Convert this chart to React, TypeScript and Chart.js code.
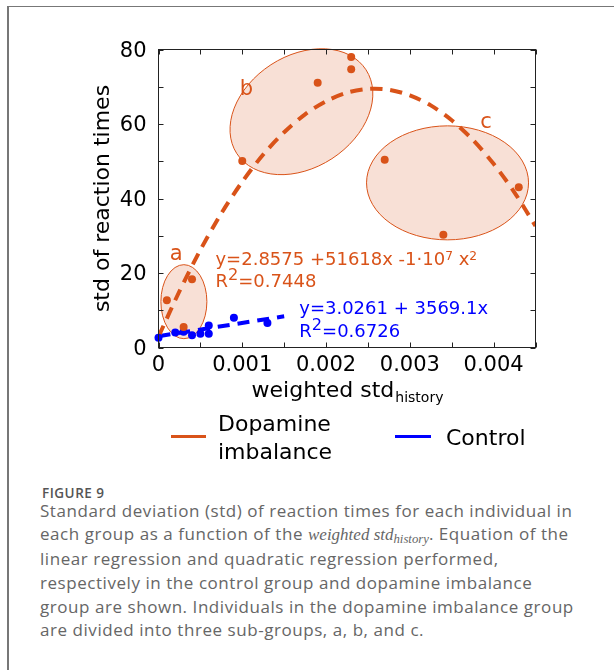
import React, { useEffect, useRef } from "react";
import { Chart, registerables } from "chart.js";

Chart.register(...registerables);

const ORANGE = "#D95319";
const BLUE = "#0000FF";
const FONT = "'DejaVu Sans', sans-serif";

// Dopamine imbalance group (individuals)
const dopamineX = [0.0001, 0.0003, 0.0004, 0.001, 0.0019, 0.0023, 0.0023, 0.0027, 0.0034, 0.0043];
const dopamineY = [12.7, 5.5, 18.3, 50.1, 71.1, 78.0, 74.7, 50.4, 30.3, 43.0];

// Control group (individuals)
const controlX = [0, 0.0002, 0.0003, 0.0004, 0.0005, 0.0006, 0.0006, 0.0009, 0.0013];
const controlY = [2.6, 4.0, 4.2, 3.3, 3.7, 3.7, 5.9, 8.0, 6.6];

// Quadratic regression curve (dopamine imbalance)
const quadFitX = [0, 0.00025, 0.0005, 0.00075, 0.001, 0.00125, 0.0015, 0.00175, 0.002, 0.00225, 0.0025, 0.00275, 0.003, 0.00325, 0.0035, 0.00375, 0.004, 0.00425, 0.0045];
const quadFitY = [2.9, 15.1, 26.2, 36.0, 44.5, 51.8, 57.8, 62.6, 66.1, 68.4, 69.4, 69.2, 67.7, 65.0, 61.0, 55.8, 49.3, 41.6, 32.6];

// Linear regression line (control)
const linFitX = [0, 0.0015];
const linFitY = [3.03, 8.38];

// Tick labels
const xTicks = [0, 0.001, 0.002, 0.003, 0.004];
const xTickLabels = ["0", "0.001", "0.002", "0.003", "0.004"];
const yTicks = [0, 20, 40, 60, 80];
const yTickLabels = ["0", "20", "40", "60", "80"];

// Sub-group annotations (a, b, c)
const subgroupNames = ["a", "b", "c"];
const ellipses = [
  { x: 0.000303, y: 12.3, rx: 23, ry: 37, rot: 0 },
  { x: 0.001706, y: 63.3, rx: 77, ry: 56, rot: -33 },
  { x: 0.00345, y: 44.2, rx: 81, ry: 57, rot: 0 },
];
const subgroupLabelPos = [
  { x: 0.00021, y: 23.4 },
  { x: 0.00105, y: 67.8 },
  { x: 0.00391, y: 58.9 },
];

type Part = { t: string; sup?: boolean; big?: boolean };

function drawRich(ctx: CanvasRenderingContext2D, parts: Part[], x: number, y: number, size: number) {
  let cx = x;
  for (const p of parts) {
    if (p.sup) {
      const s = p.big ? size * 0.9 : size * 0.68;
      ctx.font = `${s}px ${FONT}`;
      const dy = p.big ? size * 0.37 : size * 0.3;
      ctx.fillText(p.t, cx, y - dy);
      cx += ctx.measureText(p.t).width;
    } else {
      ctx.font = `${size}px ${FONT}`;
      ctx.fillText(p.t, cx, y);
      cx += ctx.measureText(p.t).width;
    }
  }
}

const overlayPlugin = {
  id: "overlay",
  beforeDatasetsDraw(chart: any) {
    const { ctx, scales } = chart;
    const xs = scales.x;
    const ys = scales.y;
    ctx.save();
    for (const e of ellipses) {
      const cx = xs.getPixelForValue(e.x);
      const cy = ys.getPixelForValue(e.y);
      ctx.beginPath();
      ctx.ellipse(cx, cy, e.rx, e.ry, (e.rot * Math.PI) / 180, 0, Math.PI * 2);
      ctx.fillStyle = "rgba(217,83,25,0.18)";
      ctx.fill();
      ctx.strokeStyle = ORANGE;
      ctx.lineWidth = 1;
      ctx.stroke();
    }
    ctx.restore();
  },
  afterDatasetsDraw(chart: any) {
    const { ctx, scales, chartArea } = chart;
    const xs = scales.x;
    const ys = scales.y;
    const { left, right, top, bottom } = chartArea;
    ctx.save();
    // frame
    ctx.strokeStyle = "#222";
    ctx.lineWidth = 1;
    ctx.strokeRect(left, top, right - left, bottom - top);
    // inward ticks (major + minor) on all sides
    const tl = 5;
    ctx.beginPath();
    for (let v = 0; v <= 0.0045 + 1e-9; v += 0.0005) {
      const px = Math.round(xs.getPixelForValue(v)) + 0.5;
      ctx.moveTo(px, bottom);
      ctx.lineTo(px, bottom - tl);
      ctx.moveTo(px, top);
      ctx.lineTo(px, top + tl);
    }
    for (let v = 0; v <= 80; v += 10) {
      const py = Math.round(ys.getPixelForValue(v)) + 0.5;
      ctx.moveTo(left, py);
      ctx.lineTo(left + tl, py);
      ctx.moveTo(right, py);
      ctx.lineTo(right - tl, py);
    }
    ctx.stroke();

    // sub-group letters
    ctx.fillStyle = ORANGE;
    ctx.font = `21px ${FONT}`;
    ctx.textAlign = "center";
    ctx.textBaseline = "alphabetic";
    subgroupNames.forEach((n, i) => {
      ctx.fillText(n, xs.getPixelForValue(subgroupLabelPos[i].x), ys.getPixelForValue(subgroupLabelPos[i].y));
    });

    // equations
    ctx.textAlign = "left";
    const ox = xs.getPixelForValue(0.00068);
    drawRich(ctx, [{ t: "y=2.8575 +51618x -1·10" }, { t: "7", sup: true }, { t: " x" }, { t: "2", sup: true }], ox, ys.getPixelForValue(22.1), 18);
    drawRich(ctx, [{ t: "R" }, { t: "2", sup: true, big: true }, { t: "=0.7448" }], ox, ys.getPixelForValue(16.2), 18);
    ctx.fillStyle = BLUE;
    const bx = xs.getPixelForValue(0.00168);
    drawRich(ctx, [{ t: "y=3.0261 + 3569.1x" }], bx, ys.getPixelForValue(9.1), 18);
    drawRich(ctx, [{ t: "R" }, { t: "2", sup: true, big: true }, { t: "=0.6726" }], bx, ys.getPixelForValue(2.8), 18);

    // y-axis title
    ctx.fillStyle = "#000";
    ctx.save();
    ctx.translate(108.5, (top + bottom) / 2);
    ctx.rotate(-Math.PI / 2);
    ctx.textAlign = "center";
    ctx.font = `22px ${FONT}`;
    ctx.fillText("std of reaction times", 0, 0);
    ctx.restore();

    // x-axis title with subscript
    ctx.font = `22px ${FONT}`;
    const mainT = "weighted std";
    const w1 = ctx.measureText(mainT).width;
    ctx.font = `14px ${FONT}`;
    const subT = "history";
    const w2 = ctx.measureText(subT).width;
    const sx = (left + right) / 2 - (w1 + w2) / 2;
    ctx.textAlign = "left";
    ctx.font = `22px ${FONT}`;
    ctx.fillText(mainT, sx, 396.5);
    ctx.font = `14px ${FONT}`;
    ctx.fillText(subT, sx + w1 + 1, 402);
    ctx.restore();
  },
};

export default function App() {
  const canvasRef = useRef<HTMLCanvasElement | null>(null);

  useEffect(() => {
    if (!canvasRef.current) return;
    const chart = new Chart(canvasRef.current, {
      type: "scatter",
      data: {
        datasets: [
          {
            label: "Dopamine imbalance",
            data: dopamineX.map((x, i) => ({ x, y: dopamineY[i] })),
            backgroundColor: ORANGE,
            borderColor: ORANGE,
            pointRadius: 4,
            pointBorderWidth: 0,
            clip: false as any,
          },
          {
            label: "Control",
            data: controlX.map((x, i) => ({ x, y: controlY[i] })),
            backgroundColor: BLUE,
            borderColor: BLUE,
            pointRadius: 4,
            pointBorderWidth: 0,
            clip: false as any,
          },
          {
            label: "Quadratic fit",
            data: quadFitX.map((x, i) => ({ x, y: quadFitY[i] })),
            showLine: true,
            borderColor: ORANGE,
            borderWidth: 4,
            borderDash: [12, 8],
            pointRadius: 0,
            tension: 0.3,
            fill: false,
          },
          {
            label: "Linear fit",
            data: linFitX.map((x, i) => ({ x, y: linFitY[i] })),
            showLine: true,
            borderColor: BLUE,
            borderWidth: 4,
            borderDash: [12, 8],
            pointRadius: 0,
            fill: false,
          },
        ],
      },
      options: {
        animation: false,
        responsive: false,
        devicePixelRatio: 1,
        events: [],
        layout: { padding: { left: 0, top: 49.5, right: 78.5, bottom: 470 - 347.5 - 30 } },
        plugins: { legend: { display: false }, tooltip: { enabled: false }, title: { display: false } },
        scales: {
          x: {
            type: "linear",
            min: 0,
            max: 0.0045,
            grid: { display: false, drawTicks: false },
            border: { display: false },
            afterFit: (s: any) => {
              s.height = 30;
            },
            afterBuildTicks: (s: any) => {
              s.ticks = xTicks.map((v) => ({ value: v }));
            },
            ticks: {
              autoSkip: false,
              maxRotation: 0,
              padding: 5,
              color: "#000",
              font: { family: FONT, size: 21 },
              callback: (v: any) => {
                const i = xTicks.indexOf(Number(v));
                return i >= 0 ? xTickLabels[i] : "";
              },
            },
          },
          y: {
            type: "linear",
            min: 0,
            max: 80,
            grid: { display: false, drawTicks: false },
            border: { display: false },
            afterFit: (s: any) => {
              s.width = 158.5;
            },
            afterBuildTicks: (s: any) => {
              s.ticks = yTicks.map((v) => ({ value: v }));
            },
            ticks: {
              autoSkip: false,
              padding: 12,
              labelOffset: 2,
              color: "#000",
              font: { family: FONT, size: 21 },
              callback: (v: any) => {
                const i = yTicks.indexOf(Number(v));
                return i >= 0 ? yTickLabels[i] : "";
              },
            },
          },
        },
      },
      plugins: [overlayPlugin],
    });
    return () => chart.destroy();
  }, []);

  const legendText: React.CSSProperties = {
    position: "absolute",
    fontFamily: FONT,
    fontSize: 22,
    lineHeight: "27.6px",
    color: "#000",
    whiteSpace: "nowrap",
  };

  return (
    <div style={{ position: "absolute", left: 0, top: 0, width: 614, height: 670, overflow: "hidden", background: "#fff" }}>
      <div
        style={{
          position: "absolute",
          left: 7,
          top: 6,
          width: 607,
          height: 664,
          boxSizing: "border-box",
          borderLeft: "2px solid #777",
          borderTop: "1px solid #777",
        }}
      />
      <canvas ref={canvasRef} width={614} height={470} style={{ position: "absolute", left: 0, top: 0, display: "block" }} />
      {/* legend */}
      <div style={{ position: "absolute", left: 171, top: 435, width: 35, height: 3, background: ORANGE }} />
      <div style={{ ...legendText, left: 218, top: 410.3 }}>
        Dopamine
        <br />
        imbalance
      </div>
      <div style={{ position: "absolute", left: 395, top: 435, width: 36, height: 3, background: BLUE }} />
      <div style={{ ...legendText, left: 446, top: 423.6 }}>Control</div>
      {/* caption */}
      <div
        style={{
          position: "absolute",
          left: 42,
          top: 484,
          fontFamily: "'Open Sans', sans-serif",
          fontSize: 13.5,
          fontWeight: 600,
          letterSpacing: "0.5px",
          color: "#555",
          whiteSpace: "nowrap",
        }}
      >
        FIGURE 9
      </div>
      <div
        style={{
          position: "absolute",
          left: 40,
          top: 498.5,
          fontFamily: "'Open Sans', sans-serif",
          fontSize: 17,
          letterSpacing: "0.55px",
          lineHeight: "23.8px",
          color: "#666",
          whiteSpace: "nowrap",
        }}
      >
        Standard deviation (std) of reaction times for each individual in
        <br />
        each group as a function of the{" "}
        <i style={{ fontFamily: "'Liberation Serif', serif", letterSpacing: 0 }}>
          weighted std
          <sub style={{ fontSize: "0.75em", lineHeight: 0, verticalAlign: "-0.25em" }}>history</sub>
        </i>
        . Equation of the
        <br />
        linear regression and quadratic regression performed,
        <br />
        respectively in the control group and dopamine imbalance
        <br />
        group are shown. Individuals in the dopamine imbalance group
        <br />
        are divided into three sub-groups, a, b, and c.
      </div>
    </div>
  );
}
